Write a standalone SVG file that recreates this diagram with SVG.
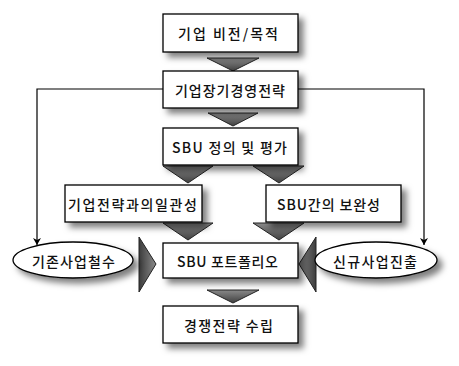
<svg xmlns="http://www.w3.org/2000/svg" width="459" height="366" viewBox="0 0 459 366">
<defs>
<filter id="sh" x="-20%" y="-30%" width="150%" height="180%">
<feDropShadow dx="5" dy="5" stdDeviation="3" flood-color="#000" flood-opacity="0.5"/>
</filter>
<linearGradient id="gd" x1="0" y1="0" x2="0" y2="1">
<stop offset="0" stop-color="#8a8a8a"/>
<stop offset="1" stop-color="#404040"/>
</linearGradient>
<linearGradient id="gr" x1="0" y1="0" x2="1" y2="0">
<stop offset="0" stop-color="#3c3c3c"/>
<stop offset="1" stop-color="#8a8a8a"/>
</linearGradient>
<linearGradient id="gl" x1="1" y1="0" x2="0" y2="0">
<stop offset="0" stop-color="#3c3c3c"/>
<stop offset="1" stop-color="#8a8a8a"/>
</linearGradient>
<marker id="ar" markerWidth="8" markerHeight="8" refX="7" refY="4" orient="auto" markerUnits="userSpaceOnUse">
<path d="M0,0 L7,4 L0,8 L2,4 Z" fill="#000"/>
</marker>
</defs>
<style>
.box{fill:#fff;stroke:#000;stroke-width:1.3;filter:url(#sh)}
.t{font-family:"Noto Sans CJK KR","Noto Sans",sans-serif;font-size:14px;font-weight:500;fill:#111;text-anchor:middle;dominant-baseline:central}
.tri{stroke:#222;stroke-width:1}
.ln{fill:none;stroke:#000;stroke-width:1.2}
</style>
<g id="connectors">
<path class="ln" d="M163,89 H37 V245" marker-end="url(#ar)"/>
<path class="ln" d="M298,89 H424 V245" marker-end="url(#ar)"/>
<polygon class="tri" fill="url(#gd)" points="207,58 259,58 233,71"/>
<polygon class="tri" fill="url(#gd)" points="208,113 258,113 233,126"/>
<polygon class="tri" fill="url(#gd)" points="163,166 213,166 188,183"/>
<polygon class="tri" fill="url(#gd)" points="253,166 304,166 279,183"/>
<polygon class="tri" fill="url(#gd)" points="163,223 213,223 188,240"/>
<polygon class="tri" fill="url(#gd)" points="253,223 304,223 279,240"/>
<polygon class="tri" fill="url(#gr)" points="139,237 139,292 156,264"/>
<polygon class="tri" fill="url(#gl)" points="316,237 316,292 299,264"/>
<polygon class="tri" fill="url(#gd)" points="207,290 259,290 233,303"/>
</g>
<g id="n1"><rect class="box" x="163" y="14" width="135" height="38"/><text class="t" x="228" y="33" textLength="100" lengthAdjust="spacing">기업 비전/목적</text></g>
<g id="n2"><rect class="box" x="163" y="71" width="135" height="37"/><text class="t" x="230" y="89.5" textLength="110" lengthAdjust="spacing">기업장기경영전략</text></g>
<g id="n3"><rect class="box" x="163" y="128" width="135" height="37"/><text class="t" x="229.5" y="146.5" textLength="115" lengthAdjust="spacing">SBU 정의 및 평가</text></g>
<g id="n4"><rect class="box" x="65" y="185" width="137" height="37"/><text class="t" x="132.5" y="203.5" textLength="129" lengthAdjust="spacing">기업전략과의일관성</text></g>
<g id="n5"><rect class="box" x="266" y="185" width="135" height="37"/><text class="t" x="328.5" y="203.5" textLength="103" lengthAdjust="spacing">SBU간의 보완성</text></g>
<g id="n6"><rect class="box" x="163" y="243" width="135" height="35"/><text class="t" x="227.5" y="260.5" textLength="101" lengthAdjust="spacing">SBU 포트폴리오</text></g>
<g id="n7"><ellipse class="box" cx="73" cy="260" rx="60" ry="18"/><text class="t" x="73.5" y="260.5" textLength="83" lengthAdjust="spacing">기존사업철수</text></g>
<g id="n8"><ellipse class="box" cx="376" cy="260" rx="61" ry="18"/><text class="t" x="375" y="260.5" textLength="84" lengthAdjust="spacing">신규사업진출</text></g>
<g id="n9"><rect class="box" x="163" y="306" width="135" height="37"/><text class="t" x="228.5" y="324.5" textLength="89" lengthAdjust="spacing">경쟁전략 수립</text></g>
</svg>
